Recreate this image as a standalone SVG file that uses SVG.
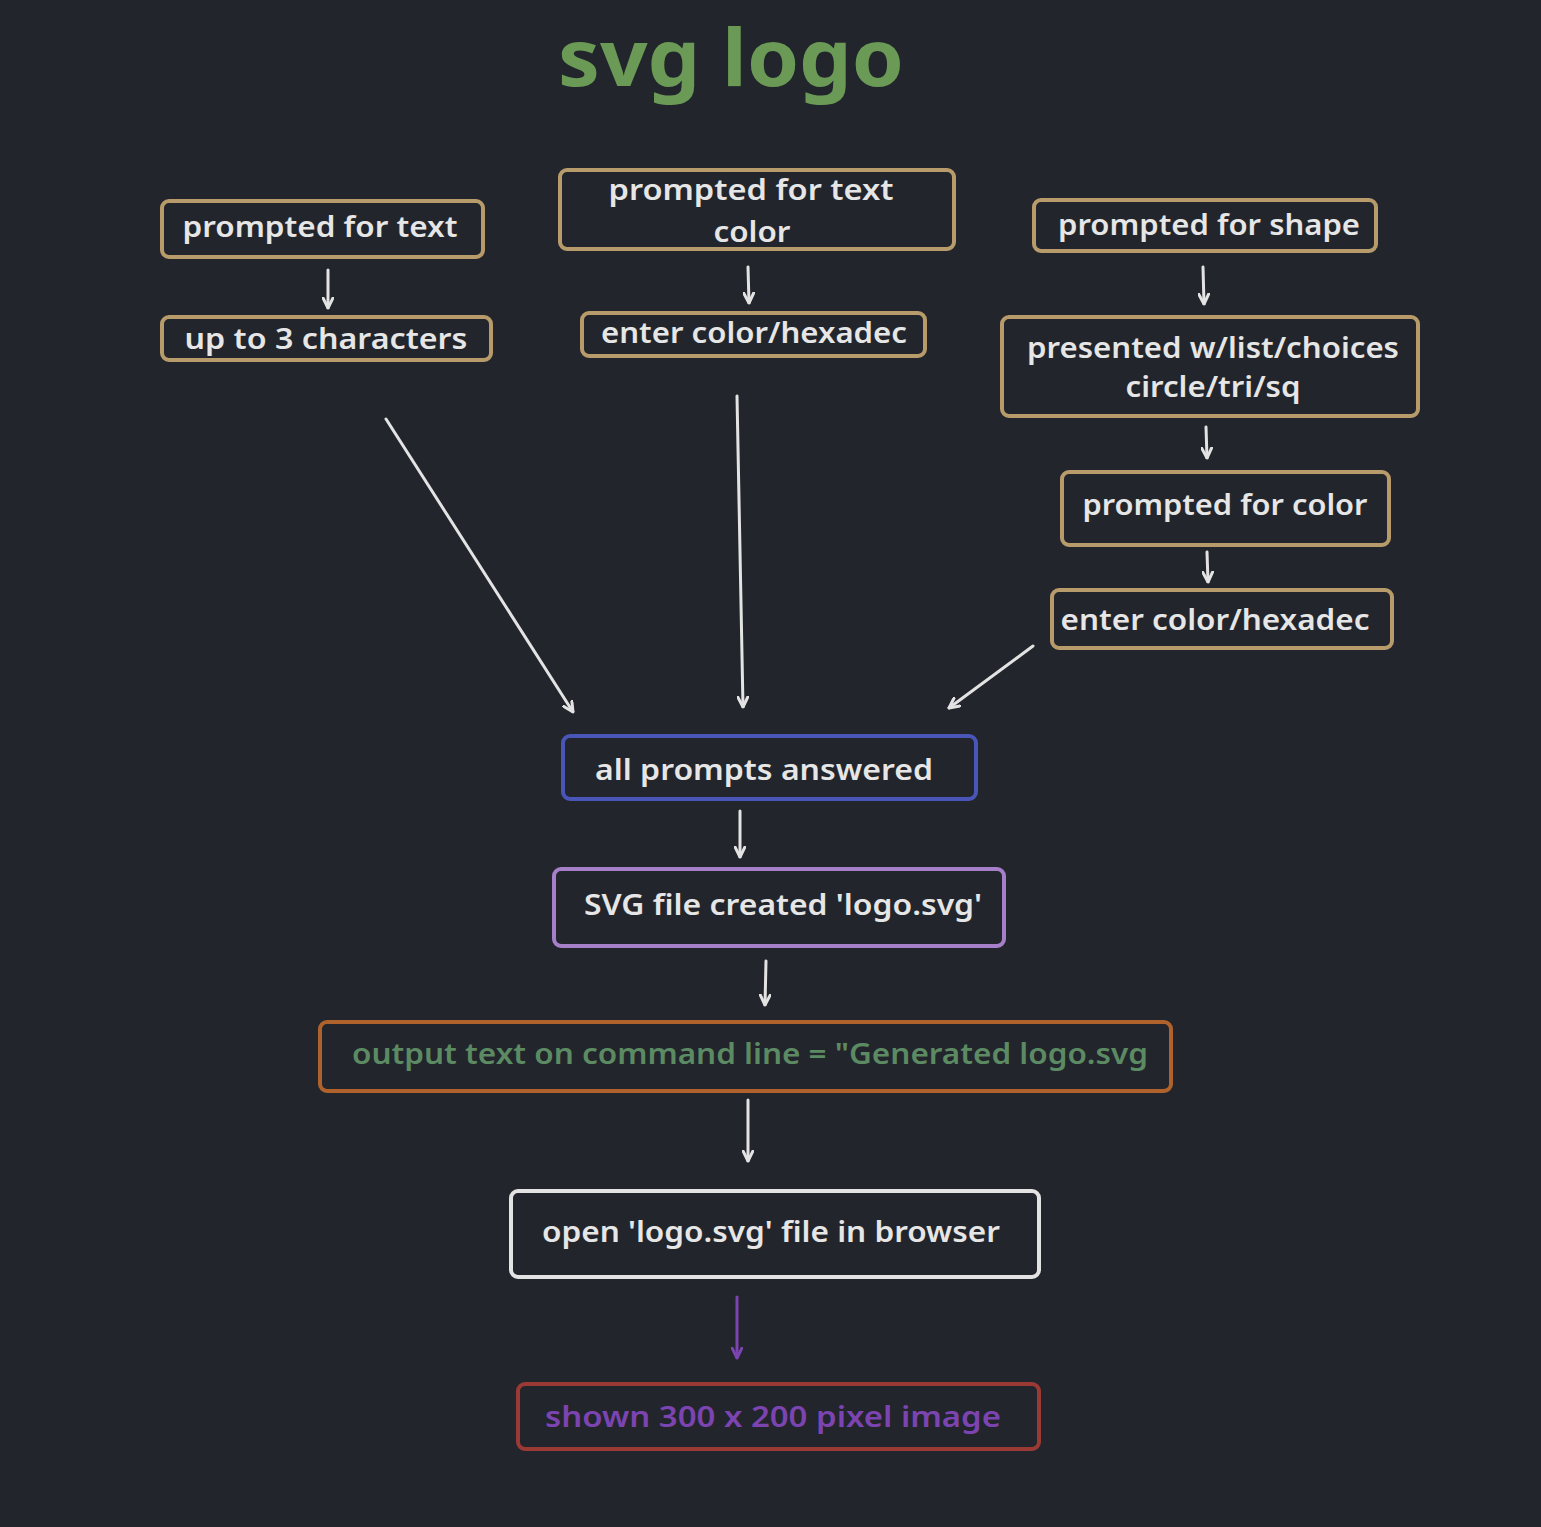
<svg xmlns="http://www.w3.org/2000/svg" width="1541" height="1527" viewBox="0 0 1541 1527">
<defs>
<style>
.bg{fill:#22252b}
.box{fill:#22252b;stroke-width:4;}
.tan{stroke:#b89b6a}
.t{font-family:"Noto Sans","Open Sans",sans-serif;font-size:28px;font-weight:600;fill:#e6e6e6;text-anchor:middle}
.conn{stroke:#e3e3e3;stroke-width:3;fill:none;stroke-linecap:round}
</style>
<marker id="ah" viewBox="0 0 12 12" refX="11" refY="6" markerWidth="12" markerHeight="12" markerUnits="userSpaceOnUse" orient="auto">
<path d="M1,1 L11,6 L1,11" fill="none" stroke="#e3e3e3" stroke-width="3" stroke-linecap="round" stroke-linejoin="round"/>
</marker>
<marker id="ahp" viewBox="0 0 12 12" refX="11" refY="6" markerWidth="12" markerHeight="12" markerUnits="userSpaceOnUse" orient="auto">
<path d="M1,1 L11,6 L1,11" fill="none" stroke="#7b44b0" stroke-width="3" stroke-linecap="round" stroke-linejoin="round"/>
</marker>
</defs>
<rect class="bg" x="0" y="0" width="1541" height="1527"/>
<text id="title" x="731" y="86" font-family="Noto Sans, sans-serif" font-size="78" font-weight="700" fill="#6a9a55" text-anchor="middle" textLength="346" lengthAdjust="spacingAndGlyphs">svg logo</text>

<g id="connectors">
<line class="conn" x1="328" y1="270" x2="328" y2="308" marker-end="url(#ah)"/>
<line class="conn" x1="748" y1="267" x2="749" y2="303" marker-end="url(#ah)"/>
<line class="conn" x1="1203" y1="267" x2="1204" y2="304" marker-end="url(#ah)"/>
<line class="conn" x1="1206" y1="427" x2="1207" y2="458" marker-end="url(#ah)"/>
<line class="conn" x1="1207" y1="552" x2="1208" y2="582" marker-end="url(#ah)"/>
<line class="conn" x1="386" y1="419" x2="573" y2="712" marker-end="url(#ah)"/>
<line class="conn" x1="737" y1="396" x2="743" y2="707" marker-end="url(#ah)"/>
<line class="conn" x1="1033" y1="646" x2="949" y2="708" marker-end="url(#ah)"/>
<line class="conn" x1="740" y1="811" x2="740" y2="857" marker-end="url(#ah)"/>
<line class="conn" x1="766" y1="961" x2="765" y2="1005" marker-end="url(#ah)"/>
<line class="conn" x1="748" y1="1100" x2="748" y2="1161" marker-end="url(#ah)"/>
<line class="conn" x1="737" y1="1297" x2="737" y2="1358" style="stroke:#7b44b0" marker-end="url(#ahp)"/>
</g>

<g id="n1">
<rect class="box tan" x="162" y="201" width="321" height="56" rx="7"/>
<text class="t" x="320" y="237" textLength="275" lengthAdjust="spacingAndGlyphs">prompted for text</text>
</g>
<g id="n2">
<rect class="box tan" x="162" y="317" width="329" height="43" rx="7"/>
<text class="t" x="326" y="349" textLength="283" lengthAdjust="spacingAndGlyphs">up to 3 characters</text>
</g>
<g id="n3">
<rect class="box tan" x="560" y="170" width="394" height="79" rx="7"/>
<text class="t" x="751" y="200" textLength="285" lengthAdjust="spacingAndGlyphs">prompted for text</text>
<text class="t" x="752" y="242" textLength="77" lengthAdjust="spacingAndGlyphs">color</text>
</g>
<g id="n4">
<rect class="box tan" x="582" y="313" width="343" height="43" rx="7"/>
<text class="t" x="754" y="343" textLength="306" lengthAdjust="spacingAndGlyphs">enter color/hexadec</text>
</g>
<g id="n5">
<rect class="box tan" x="1034" y="200" width="342" height="51" rx="7"/>
<text class="t" x="1209" y="235" textLength="302" lengthAdjust="spacingAndGlyphs">prompted for shape</text>
</g>
<g id="n6">
<rect class="box tan" x="1002" y="317" width="416" height="99" rx="7"/>
<text class="t" x="1213" y="358" textLength="372" lengthAdjust="spacingAndGlyphs">presented w/list/choices</text>
<text class="t" x="1213" y="397" textLength="175" lengthAdjust="spacingAndGlyphs">circle/tri/sq</text>
</g>
<g id="n7">
<rect class="box tan" x="1062" y="472" width="327" height="73" rx="7"/>
<text class="t" x="1225" y="515" textLength="285" lengthAdjust="spacingAndGlyphs">prompted for color</text>
</g>
<g id="n8">
<rect class="box tan" x="1052" y="590" width="340" height="58" rx="7"/>
<text class="t" x="1215" y="630" textLength="309" lengthAdjust="spacingAndGlyphs">enter color/hexadec</text>
</g>
<g id="n9">
<rect class="box" style="stroke:#4a55b8" x="563" y="736" width="413" height="63" rx="7"/>
<text class="t" x="764" y="780" textLength="338" lengthAdjust="spacingAndGlyphs">all prompts answered</text>
</g>
<g id="n10">
<rect class="box" style="stroke:#a57fc8" x="554" y="869" width="450" height="77" rx="7"/>
<text class="t" x="783" y="915" textLength="398" lengthAdjust="spacingAndGlyphs">SVG file created 'logo.svg'</text>
</g>
<g id="n11">
<rect class="box" style="stroke:#b0622c" x="320" y="1022" width="851" height="69" rx="7"/>
<text class="t" x="750" y="1064" style="fill:#5b8a63" textLength="796" lengthAdjust="spacingAndGlyphs">output text on command line = "Generated logo.svg</text>
</g>
<g id="n12">
<rect class="box" style="stroke:#e3e3e3" x="511" y="1191" width="528" height="86" rx="7"/>
<text class="t" x="771" y="1242" textLength="458" lengthAdjust="spacingAndGlyphs">open 'logo.svg' file in browser</text>
</g>
<g id="n13">
<rect class="box" style="stroke:#9b3a35" x="518" y="1384" width="521" height="65" rx="7"/>
<text class="t" x="773" y="1427" style="fill:#7b44b0" textLength="456" lengthAdjust="spacingAndGlyphs">shown 300 x 200 pixel image</text>
</g>
</svg>
